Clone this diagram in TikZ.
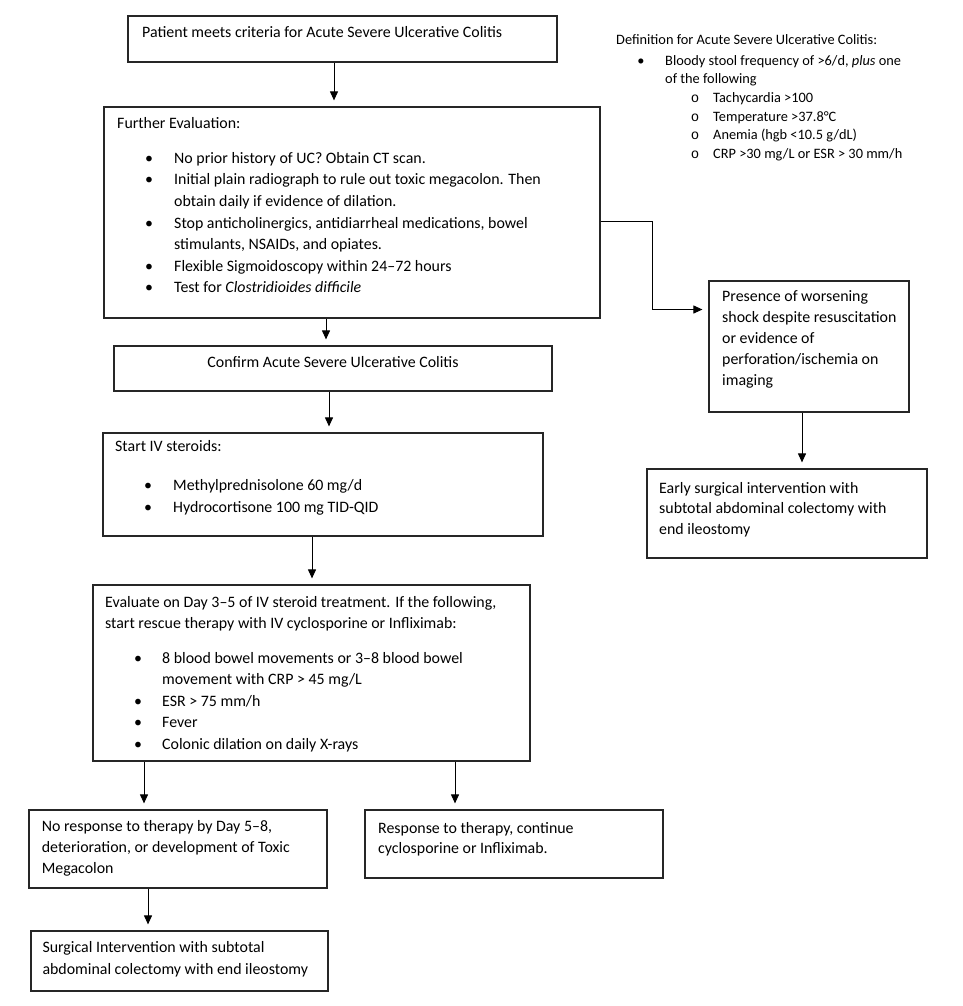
\documentclass[tikz,border=0pt]{standalone}
\usepackage{fontspec}
\setmainfont{Carlito}
\newfontfamily\monof{Liberation Mono}
\usetikzlibrary{arrows.meta,fit}
\newcommand\mainsz{\fontsize{15.9}{21.5}\selectfont}
\newcommand\defsz{\fontsize{14.35}{18.6}\selectfont}
\begin{document}
\begin{tikzpicture}[x=1pt,y=-1pt,
  box/.style={draw=black!85, line width=1.2pt, inner sep=0pt},
  txt/.style={inner sep=0pt, anchor=base west, font=\mainsz, text=black},
  ctxt/.style={inner sep=0pt, anchor=base, font=\mainsz, text=black},
  dtxt/.style={inner sep=0pt, anchor=base west, font=\defsz, text=black},
  bul/.style={inner sep=0pt, anchor=base, font=\mainsz, text=black},
  dbul/.style={inner sep=0pt, anchor=base, font=\defsz, text=black},
  sbul/.style={inner sep=0pt, anchor=base, font=\monof\fontsize{14}{16}\selectfont, text=black},
  arr/.style={draw=black, line width=1pt, -{Triangle[length=9pt,width=8pt]}, shorten >=6pt},
]
\useasboundingbox[fill=white] (0,0) rectangle (963,1006);

% boxes
\node[box, fit={(128,16) (557,62)}] (b1) {};
\node[box, fit={(104,107) (600,318)}] (b2) {};
\node[box, fit={(114,346) (552,391)}] (b3) {};
\node[box, fit={(103,433) (543,536)}] (b4) {};
\node[box, fit={(93,585) (530,761)}] (b5) {};
\node[box, fit={(29,810) (327,888)}] (b6) {};
\node[box, fit={(365,810) (663,878)}] (b7) {};
\node[box, fit={(31,931) (328,991)}] (b8) {};
\node[box, fit={(709,281) (909,412)}] (b9) {};
\node[box, fit={(647,469) (927,558)}] (b10) {};

% box 1
\node[txt] (t1) at (142,37.5) {Patient meets criteria for Acute Severe Ulcerative Colitis};

% definition
\node[dtxt] (d0) at (616,45) {Definition for Acute Severe Ulcerative Colitis:};
\node[dbul] (db1) at (641,65.3) {•};
\node[dtxt] (d1) at (665,65.3) {Bloody stool frequency of >6/d, \textit{plus} one};
\node[dtxt] (d2) at (665,83.9) {of the following};
\node[sbul] (ds1) at (695,102.5) {o};
\node[dtxt] (d3) at (713,102.5) {Tachycardia >100};
\node[sbul] (ds2) at (695,121.1) {o};
\node[dtxt] (d4) at (713,121.1) {Temperature >37.8°C};
\node[sbul] (ds3) at (695,139.7) {o};
\node[dtxt] (d5) at (713,139.7) {Anemia (hgb <10.5 g/dL)};
\node[sbul] (ds4) at (695,158.3) {o};
\node[dtxt] (d6) at (713,158.3) {CRP >30 mg/L or ESR > 30 mm/h};

% box 2
\node[txt] (e0) at (117,128.3) {Further Evaluation:};
\node[bul] (eb1) at (149,163.3) {•};
\node[txt] (e1) at (174,163.3) {No prior history of UC? Obtain CT scan.};
\node[bul] (eb2) at (149,184.9) {•};
\node[txt] (e2) at (174,184.9) {Initial plain radiograph to rule out toxic megacolon. Then};
\node[txt] (e3) at (174,206.5) {obtain daily if evidence of dilation.};
\node[bul] (eb3) at (149,228.1) {•};
\node[txt] (e4) at (174,228.1) {Stop anticholinergics, antidiarrheal medications, bowel};
\node[txt] (e5) at (174,249.7) {stimulants, NSAIDs, and opiates.};
\node[bul] (eb4) at (149,271.3) {•};
\node[txt] (e6) at (174,271.3) {Flexible Sigmoidoscopy within 24–72 hours};
\node[bul] (eb5) at (149,292.9) {•};
\node[txt] (e7) at (174,292.9) {Test for \textit{Clostridioides difficile}};

% box 3
\node[ctxt] (c1) at (333,367.5) {Confirm Acute Severe Ulcerative Colitis};

% box 4
\node[txt] (s0) at (115,451) {Start IV steroids:};
\node[bul] (sb1) at (148,490.6) {•};
\node[txt] (s1) at (173,490.6) {Methylprednisolone 60 mg/d};
\node[bul] (sb2) at (148,512) {•};
\node[txt] (s2) at (173,512) {Hydrocortisone 100 mg TID-QID};

% box 5
\node[txt] (v0) at (105,607) {Evaluate on Day 3–5 of IV steroid treatment. If the following,};
\node[txt] (v1) at (105,628) {start rescue therapy with IV cyclosporine or Infliximab:};
\node[bul] (vb1) at (138,663) {•};
\node[txt] (v2) at (162,663) {8 blood bowel movements or 3–8 blood bowel};
\node[txt] (v3) at (162,684.5) {movement with CRP > 45 mg/L};
\node[bul] (vb2) at (138,706) {•};
\node[txt] (v4) at (162,706) {ESR > 75 mm/h};
\node[bul] (vb3) at (138,727.5) {•};
\node[txt] (v5) at (162,727.5) {Fever};
\node[bul] (vb4) at (138,749) {•};
\node[txt] (v6) at (162,749) {Colonic dilation on daily X-rays};

% box 6
\node[txt] (n1) at (41.7,831.5) {No response to therapy by Day 5–8,};
\node[txt] (n2) at (41.7,852.5) {deterioration, or development of Toxic};
\node[txt] (n3) at (41.7,873.5) {Megacolon};

% box 7
\node[txt] (r1) at (378,833) {Response to therapy, continue};
\node[txt] (r2) at (378,853) {cyclosporine or Infliximab.};

% box 8
\node[txt] (g1) at (42.3,952.5) {Surgical Intervention with subtotal};
\node[txt] (g2) at (42.3,974) {abdominal colectomy with end ileostomy};

% box 9
\node[txt] (p1) at (722,301.5) {Presence of worsening};
\node[txt] (p2) at (722,322.4) {shock despite resuscitation};
\node[txt] (p3) at (722,343.3) {or evidence of};
\node[txt] (p4) at (722,364.2) {perforation/ischemia on};
\node[txt] (p5) at (722,385.1) {imaging};

% box 10
\node[txt] (q1) at (659,493) {Early surgical intervention with};
\node[txt] (q2) at (659,513.5) {subtotal abdominal colectomy with};
\node[txt] (q3) at (659,534) {end ileostomy};

% connector x positions
\coordinate (x1) at (334,0);
\coordinate (x2) at (326,0);
\coordinate (x3) at (329,0);
\coordinate (x4) at (312,0);
\coordinate (x5) at (144,0);
\coordinate (x6) at (455,0);
\coordinate (x7) at (148,0);
\coordinate (x8) at (802,0);
\coordinate (yA) at (0,221);
\coordinate (yB) at (0,309.5);
\coordinate (xk) at (652,0);

\draw[arr] (b1.south -| x1) -- (b2.north -| x1);
\draw[arr] (b2.south -| x2) -- (b3.north -| x2);
\draw[arr] (b3.south -| x3) -- (b4.north -| x3);
\draw[arr] (b4.south -| x4) -- (b5.north -| x4);
\draw[arr] (b5.south -| x5) -- (b6.north -| x5);
\draw[arr] (b5.south -| x6) -- (b7.north -| x6);
\draw[arr] (b6.south -| x7) -- (b8.north -| x7);
\draw[arr] (b9.south -| x8) -- (b10.north -| x8);
\draw[arr] (b2.east |- yA) -| (xk |- yB) -- (b9.west |- yB);
\end{tikzpicture}
\end{document}
